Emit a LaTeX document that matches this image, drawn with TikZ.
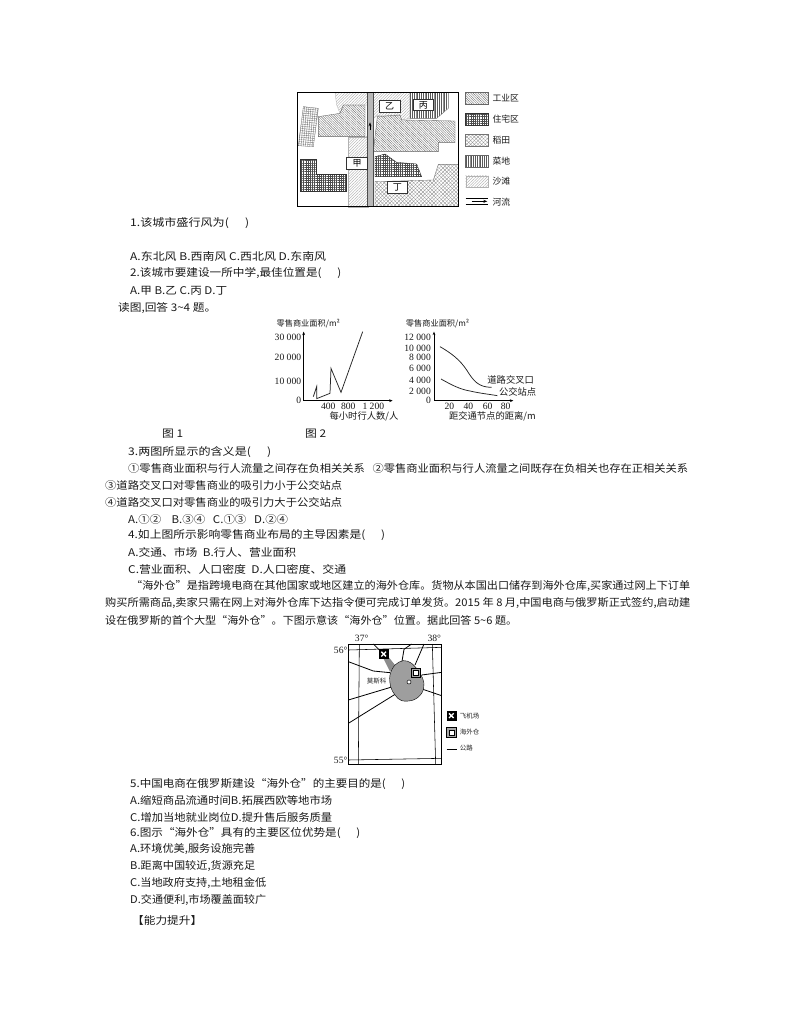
\documentclass[tikz,border=0pt]{standalone}
\usepackage{fontspec}
\usepackage{graphicx}
\setmainfont{Noto Sans CJK SC}
\newfontfamily\ser{Liberation Serif}
\usetikzlibrary{patterns.meta,arrows.meta}
\tikzset{
 zoomA/.style={shift={(290,85)},x=.33333pt,y=-.33333pt},
 zoomB/.style={shift={(260,310)},x=.33333pt,y=-.33333pt},
 zoomC/.style={shift={(320,630)},x=.33333pt,y=-.33333pt},
 txt/.style={anchor=west,inner sep=0pt,font=\fontsize{10.6}{12}\selectfont,text=black!90},
 lab/.style={inner sep=0pt,font=\fontsize{8.8}{10}\selectfont,text=black!90},
 num/.style={inner sep=0pt,font=\ser\fontsize{9.6}{11}\selectfont,text=black!90},
 tiny/.style={inner sep=0pt,font=\fontsize{6.5}{8}\selectfont,text=black!85},
 indu/.style={draw=black!60,line width=.35pt,pattern={Lines[angle=-45,distance=1.7pt,line width=.4pt]},pattern color=black!55},
 sand/.style={draw=black!30,line width=.3pt,pattern={Lines[angle=45,distance=2pt,line width=.35pt]},pattern color=black!35},
 veg/.style={draw=black!60,line width=.35pt,pattern={Lines[angle=90,distance=1.8pt,line width=.45pt]},pattern color=black!65},
 rice/.style={draw=black!55,line width=.35pt,preaction={pattern={Lines[angle=45,distance=2.6pt,line width=.3pt]},pattern color=black!45},pattern={Lines[angle=-45,distance=2.6pt,line width=.3pt]},pattern color=black!45},
 resid/.style={draw=black!80,line width=.35pt,preaction={pattern={Lines[angle=90,distance=2.2pt,line width=.5pt]},pattern color=black!70},pattern={Lines[angle=0,distance=2.2pt,line width=.5pt]},pattern color=black!70},
 lightgrid/.style={draw=black!60,line width=.3pt,preaction={pattern={Lines[angle=85,distance=2.2pt,line width=.35pt]},pattern color=black!55},pattern={Lines[angle=-5,distance=2.2pt,line width=.35pt]},pattern color=black!55},
 tag/.style={draw=black!80,line width=.4pt,fill=white,inner sep=0pt,font=\fontsize{9}{10}\selectfont},
 frame/.style={draw=black,line width=.6pt},
 road/.style={draw=black,line width=.8pt},
 axis/.style={draw=black,line width=.7pt,-{Stealth[length=3.5pt,width=2.8pt]}},
 curve/.style={draw=black!85,line width=.75pt},
}
\newcommand{\tl}[5]{\node[txt] (#1) at (#2,#3) {\resizebox{#4pt}{\height}{#5}};}
\begin{document}
\begin{tikzpicture}[x=1pt,y=-1pt]
\useasboundingbox[fill=white] (0,0) rectangle (794,1012);

% ---- land-use map
\begin{scope}[zoomA]
\path[sand] (135,22)--(233,22)--(233,60)--(160,60)--(150,85)--(140,60)--cycle;
\path[sand] (250,22)--(360,22)--(360,100)--(335,105)--(330,90)--(262,92)--(250,100)--cycle;
\path[sand] (175,155)--(233,155)--(233,365)--(175,365)--cycle;
\path[veg] (360,22)--(475,22)--(475,70)--(440,100)--(360,100)--cycle;
\path[indu] (85,95)--(150,85)--(160,60)--(225,60)--(225,155)--(85,155)--cycle;
\path[indu] (262,95)--(330,90)--(335,105)--(495,108)--(495,172)--(445,172)--(445,200)--(250,200)--cycle;
\path[rice] (255,290)--(430,285)--(445,238)--(505,238)--(505,365)--(255,365)--cycle;
\path[resid] (32,222)--(80,222)--(80,268)--(168,268)--(168,318)--(32,318)--cycle;
\path[resid] (255,215)--(285,207)--(320,232)--(380,237)--(395,275)--(255,275)--cycle;
\path[lightgrid] (40,65)--(85,70)--(70,185)--(25,182)--cycle;
\fill[black!28] (233,22) rectangle (250,365);
\draw[black!70,line width=.5pt] (233,22)--(233,365) (250,22)--(250,365);
\node[tag,minimum width=21pt,minimum height=12.5pt] (jia) at (201,234) {甲};
\node[tag,minimum width=21pt,minimum height=12.5pt] (yi) at (299,63) {乙};
\node[tag,minimum width=20pt,minimum height=11pt] (bing) at (400,60) {丙};
\node[tag,minimum width=20pt,minimum height=12pt] (ding) at (322,307) {丁};
\draw[black,line width=.7pt,-{Stealth[length=4pt,width=3pt]}] (240,135)--(240,112);
\draw[frame] (22,22) rectangle (505,365);
% legend
\path[indu] (527,22) rectangle (595,57);
\path[resid] (527,85) rectangle (595,120);
\path[rice] (527,148) rectangle (595,183);
\path[veg] (527,211) rectangle (595,246);
\path[sand] (527,272) rectangle (595,307);
\draw[black,line width=.5pt] (527,339)--(595,339) (527,358)--(595,358);
\draw[black,line width=.7pt,-{Stealth[length=4pt,width=3pt]}] (545,349)--(592,349);
\node[lab,anchor=west] (l1) at (607,40) {工业区};
\node[lab,anchor=west] (l2) at (607,102) {住宅区};
\node[lab,anchor=west] (l3) at (607,165) {稻田};
\node[lab,anchor=west] (l4) at (607,228) {菜地};
\node[lab,anchor=west] (l5) at (607,290) {沙滩};
\node[lab,anchor=west] (l6) at (607,350) {河流};
\end{scope}

% ---- charts
\begin{scope}[zoomB]
\draw[axis] (131,272)--(131,65);
\draw[axis] (131,272)--(398,272);
\draw[curve] (160,260)--(170,230)--(170,266)--(210,250)--(213,175)--(243,247)--(308,65);
\node[lab,font=\fontsize{8.2}{10}\selectfont] (a1) at (145,40) {零售商业面积/m²};
\node[num,anchor=east] (a2) at (124,83) {30 000};
\node[num,anchor=east] (a3) at (124,143) {20 000};
\node[num,anchor=east] (a4) at (124,213) {10 000};
\node[num,anchor=east] (a5) at (124,272) {0};
\node[num] (a6) at (205,290) {400};
\node[num] (a7) at (265,290) {800};
\node[num] (a8) at (340,290) {1 200};
\node[lab,font=\fontsize{9.3}{10}\selectfont] (a9) at (312,318) {每小时行人数/人};
\draw[axis] (522,272)--(522,65);
\draw[axis] (522,272)--(760,272);
\draw[curve] (540,110)..controls (575,130) and (600,150)..(620,180)..controls (640,212) and (655,232)..(695,232);
\draw[curve] (543,207)..controls (575,225) and (600,238)..(630,243)..controls (660,250) and (690,253)..(712,257);
\node[lab,font=\fontsize{8.2}{10}\selectfont] (b1) at (533,40) {零售商业面积/m²};
\node[num,anchor=east] (b2) at (513,83) {12 000};
\node[num,anchor=east] (b3) at (513,115) {10 000};
\node[num,anchor=east] (b4) at (513,143) {8 000};
\node[num,anchor=east] (b5) at (513,174) {6 000};
\node[num,anchor=east] (b6) at (513,211) {4 000};
\node[num,anchor=east] (b7) at (513,244) {2 000};
\node[num,anchor=east] (b8) at (513,272) {0};
\node[num] (b9) at (568,289) {20};
\node[num] (b10) at (625,289) {40};
\node[num] (b11) at (683,289) {60};
\node[num] (b12) at (737,289) {80};
\node[lab,font=\fontsize{9.3}{10}\selectfont] (b13) at (752,210) {道路交叉口};
\node[lab,font=\fontsize{9.3}{10}\selectfont] (b14) at (773,245) {公交站点};
\node[lab,font=\fontsize{9.3}{10}\selectfont] (b15) at (697,320) {距交通节点的距离/m};
\end{scope}

% ---- Moscow map
\begin{scope}[zoomC]
\draw[frame] (85,42) rectangle (365,402);
\draw[black,line width=.55pt] (85,60)--(365,52) (85,390)--(365,385) (118,42)--(115,402) (337,42)--(347,402);
\fill[black!45] (190,85)--(205,80)--(225,105)--(210,125)--cycle;
\draw[road] (85,95)--(160,123)--(210,128);
\draw[road] (85,210)--(225,168);
\draw[road] (85,280)--(230,190);
\draw[road] (160,42)--(188,70);
\draw[road] (275,42)--(252,58)--(245,100);
\draw[road] (312,42)--(285,105);
\draw[road] (305,135)--(365,127);
\draw[road] (300,175)--(365,197);
\draw[black,line width=.4pt,fill=black!38] plot[smooth cycle,tension=.6] coordinates {(210,135) (225,105) (250,92) (275,100) (300,130) (312,160) (305,190) (280,210) (245,212) (225,195) (212,170)};
\node[draw=black,fill=black,minimum size=9pt,inner sep=0pt] (air) at (191,72) {};
\draw[white,line width=1.3pt] (184,65)--(198,79) (198,65)--(184,79);
\node[draw=black,fill=black!35,minimum size=9pt,inner sep=0pt,line width=.4pt] (wh) at (288,127) {};
\node[draw=black,fill=white,minimum size=5pt,inner sep=0pt,line width=.4pt] (whi) at (288,127) {};
\node[circle,draw=black,fill=white,minimum size=4pt,inner sep=0pt,line width=.5pt] (mc) at (267,156) {};
\node[tiny] (m1) at (170,153) {莫斯科};
\node[num] (m2) at (125,25) {37°};
\node[num] (m3) at (343,25) {38°};
\node[num] (m4) at (62,62) {56°};
\node[num] (m5) at (62,390) {55°};
\node[draw=black,fill=black,minimum size=9pt,inner sep=0pt] (lair) at (394,257) {};
\draw[white,line width=1.3pt] (387,250)--(401,264) (401,250)--(387,264);
\node[draw=black,fill=black!35,minimum size=9.5pt,inner sep=0pt,line width=.4pt] (lwh) at (394,307) {};
\node[draw=black,fill=white,minimum size=5pt,inner sep=0pt,line width=.4pt] (lwhi) at (394,307) {};
\draw[road] (380,358)--(410,358);
\node[tiny,anchor=west] (m6) at (419,257) {飞机场};
\node[tiny,anchor=west] (m7) at (419,306) {海外仓};
\node[tiny,anchor=west] (m8) at (419,355) {公路};
\end{scope}

% ---- body text
\tl{t1}{130}{223}{119}{1.该城市盛行风为(\ \ \ \ \ \ )}
\tl{t2}{130}{256}{196}{A.东北风 B.西南风 C.西北风 D.东南风}
\tl{t3}{130}{273}{211}{2.该城市要建设一所中学,最佳位置是(\ \ \ \ \ \ )}
\tl{t4}{130}{291}{97}{A.甲 B.乙 C.丙 D.丁}
\tl{t5}{118}{308}{98}{读图,回答 3\textasciitilde4 题。}
\tl{t6}{162}{434}{21}{图 1}
\tl{t7}{305}{434}{21}{图 2}
\tl{t8}{128}{452}{143}{3.两图所显示的含义是(\ \ \ \ \ \ )}
\tl{t9}{128}{468}{560}{①零售商业面积与行人流量之间存在负相关关系\ \ \ ②零售商业面积与行人流量之间既存在负相关也存在正相关关系}
\tl{t10}{105}{485}{237}{③道路交叉口对零售商业的吸引力小于公交站点}
\tl{t11}{105}{502}{237}{④道路交叉口对零售商业的吸引力大于公交站点}
\tl{t12}{128}{519}{160}{A.①②\ \ \ \ B.③④\ \ \ C.①③\ \ \ D.②④}
\tl{t13}{128}{535}{257}{4.如上图所示影响零售商业布局的主导因素是(\ \ \ \ \ \ )}
\tl{t14}{128}{552}{168}{A.交通、市场\ \ B.行人、营业面积}
\tl{t15}{128}{569}{218}{C.营业面积、人口密度\ \ D.人口密度、交通}
\tl{t16}{131}{586}{559}{“海外仓”是指跨境电商在其他国家或地区建立的海外仓库。货物从本国出口储存到海外仓库,买家通过网上下订单}
\tl{t17}{105}{603}{585}{购买所需商品,卖家只需在网上对海外仓库下达指令便可完成订单发货。2015 年 8 月,中国电商与俄罗斯正式签约,启动建}
\tl{t18}{105}{620}{412}{设在俄罗斯的首个大型“海外仓”。下图示意该“海外仓”位置。据此回答 5\textasciitilde6 题。}
\tl{t19}{130}{784}{275}{5.中国电商在俄罗斯建设“海外仓”的主要目的是(\ \ \ \ \ \ )}
\tl{t20}{130}{800}{202}{A.缩短商品流通时间B.拓展西欧等地市场}
\tl{t21}{130}{817}{202}{C.增加当地就业岗位D.提升售后服务质量}
\tl{t22}{130}{833}{230}{6.图示“海外仓”具有的主要区位优势是(\ \ \ \ \ \ )}
\tl{t23}{130}{849}{125}{A.环境优美,服务设施完善}
\tl{t24}{130}{866}{125}{B.距离中国较近,货源充足}
\tl{t25}{130}{883}{136}{C.当地政府支持,土地租金低}
\tl{t26}{130}{900}{136}{D.交通便利,市场覆盖面较广}
\tl{t27}{132}{920}{70}{【能力提升】}
\end{tikzpicture}
\end{document}
